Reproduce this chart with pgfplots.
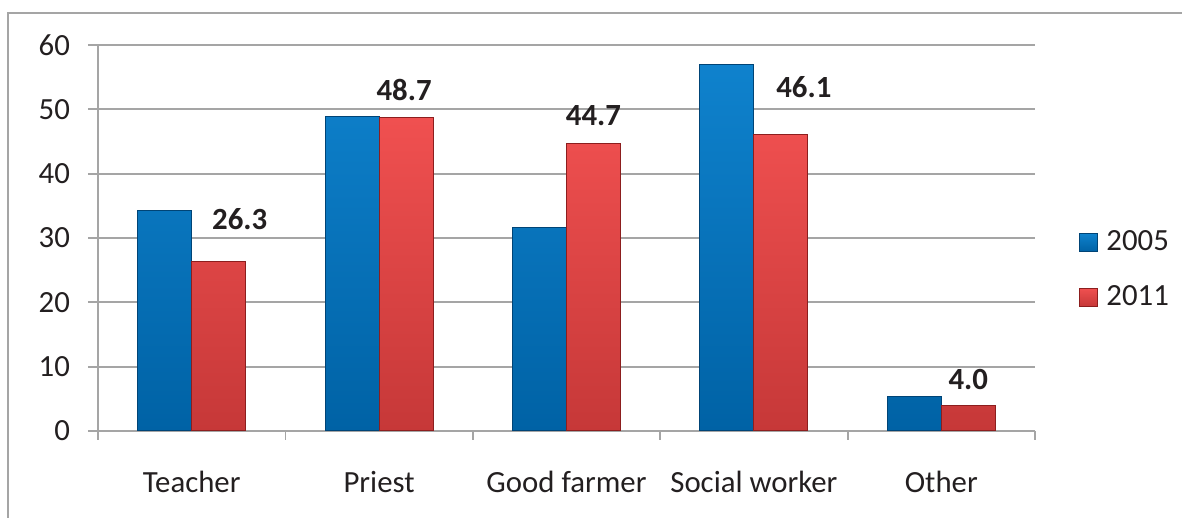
\documentclass[border=0pt]{standalone}
\usepackage{pgfplots}
\pgfplotsset{compat=1.18}
\usepackage{pgfplotstable}
\usepackage{fontspec}
\setmainfont{Carlito}

\definecolor{gridgray}{RGB}{165,165,165}
\definecolor{textdark}{RGB}{35,31,32}
\definecolor{blueTop}{RGB}{15,130,205}
\definecolor{blueBot}{RGB}{0,98,165}
\definecolor{blueEdge}{RGB}{0,68,118}
\definecolor{redTop}{RGB}{240,80,80}
\definecolor{redBot}{RGB}{198,56,56}
\definecolor{redEdge}{RGB}{140,30,30}

% 2005 survey
\pgfplotstableread{
x y
0 34.3
1 48.9
2 31.7
3 57.0
4 5.3
}\tblA

% 2011 survey, with label offsets (pt)
\pgfplotstableread{
x y dx dy
0 26.3 10.5 21.5
1 48.7 -1.0 13.9
2 44.7 0.0 14.0
3 46.1 11.5 23.8
4 4.0 0.0 12.9
}\tblB

\begin{document}
\begin{tikzpicture}[font=\fontsize{15.4}{18}\selectfont]
\useasboundingbox (-49pt,-43.5pt) rectangle (542pt,215.5pt);
\draw[gridgray, line width=1.2pt] (-45pt,-43.5pt) -- (-45pt,209pt) -- (542pt,209pt);
\begin{axis}[
  scale only axis, width=468.5pt, height=193pt,
  ymin=0, ymax=60, ytick={0,10,...,60},
  xmin=-0.5, xmax=4.5,
  xtick={0,...,4},
  xticklabels={Teacher,Priest,Good farmer,Social worker,Other},
  minor xtick={-0.5,0.5,...,4.5},
  major x tick style={draw=none},
  tick align=outside,
  major tick length=5pt, minor tick length=4.5pt,
  tick style={gridgray, line width=0.9pt},
  axis x line*=bottom, axis y line*=left,
  x axis line style={-, gridgray, line width=0.9pt},
  y axis line style={-, gridgray, line width=0.9pt},
  ymajorgrids, grid style={gridgray, line width=0.9pt},
  tick label style={text=textdark},
  /pgf/number format/assume math mode=true,
  yticklabel style={xshift=-5.5pt},
  xticklabel style={yshift=-11.5pt},
  ybar=0pt, bar width=27pt,
  legend style={at={(rel axis cs:1.047,0.418)}, anchor=west, draw=none, fill=none,
    row sep=12pt, inner sep=0pt, text=textdark,
    nodes={inner xsep=4pt}},
  legend cell align=left,
  legend image code/.code={\path[#1] (0pt,-4.5pt) rectangle (9pt,4.5pt);},
]
\addplot[draw=blueEdge, line width=0.5pt, top color=blueTop, bottom color=blueBot] table[x=x,y=y] {\tblA};
\addlegendentry{2005}
\addplot[draw=redEdge, line width=0.5pt, top color=redTop, bottom color=redBot,
  visualization depends on={\thisrow{dx} \as \dx},
  visualization depends on={\thisrow{dy} \as \dy},
  nodes near coords={\pgfmathprintnumber[fixed,fixed zerofill,precision=1]{\pgfplotspointmeta}},
  every node near coord/.append style={anchor=center, xshift=\dx, yshift=\dy,
    font=\fontsize{15.4}{18}\selectfont\bfseries, text=textdark},
  ] table[x=x,y=y] {\tblB};
\addlegendentry{2011}
\end{axis}
\end{tikzpicture}
\end{document}
